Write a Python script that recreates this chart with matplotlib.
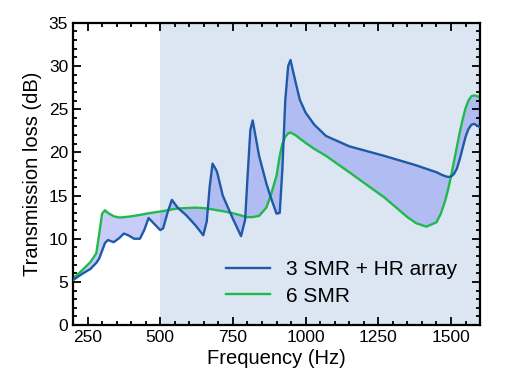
import matplotlib
matplotlib.use("Agg")
import matplotlib.pyplot as plt
from matplotlib.ticker import MultipleLocator

plt.rcParams['font.family'] = ['Liberation Sans', 'DejaVu Sans']

freq = [200, 230, 260, 280, 290, 300, 310, 320, 340, 360, 375, 390, 410, 430, 445,
        460, 480, 500, 510, 525, 540, 560, 590, 620, 648, 660, 670, 680, 695, 715,
        750, 778, 792, 800, 810, 818, 840, 865, 880, 900, 911, 920, 930, 940, 948,
        965, 980, 1000, 1030, 1070, 1150, 1270, 1350, 1380, 1415, 1450, 1465, 1480, 1490, 1500,
        1510, 1520, 1530, 1540, 1550, 1560, 1570, 1580, 1600]

smr_hr = [5.2, 5.9, 6.5, 7.2, 7.7, 8.6, 9.5, 9.85, 9.6, 10.1, 10.6, 10.4, 10.0, 10.0, 11.0,
          12.4, 11.7, 11.0, 11.2, 13.0, 14.5, 13.6, 12.7, 11.6, 10.4, 12.0, 16.0, 18.7, 17.8, 15.0,
          12.3, 10.3, 12.2, 17.0, 22.6, 23.7, 19.6, 16.4, 14.8, 12.9, 13.0, 18.0, 26.0, 30.0, 30.7,
          28.2, 26.1, 24.6, 23.2, 21.9, 20.7, 19.6, 18.8, 18.5, 18.1, 17.7, 17.45, 17.25, 17.15, 17.2,
          17.5, 18.1, 19.2, 20.5, 21.8, 22.7, 23.2, 23.3, 22.9]

smr6 = [5.4, 6.3, 7.3, 8.3, 10.5, 12.9, 13.3, 13.0, 12.6, 12.45, 12.5, 12.55, 12.65, 12.75, 12.85,
        12.95, 13.05, 13.15, 13.2, 13.3, 13.4, 13.5, 13.55, 13.6, 13.55, 13.5, 13.45, 13.4, 13.3, 13.2,
        12.95, 12.7, 12.55, 12.5, 12.5, 12.5, 12.65, 13.6, 15.0, 17.3, 19.6, 21.0, 21.8, 22.2, 22.3,
        22.0, 21.6, 21.1, 20.4, 19.6, 17.7, 14.8, 12.5, 11.8, 11.4, 11.9, 12.9, 14.4, 15.7, 17.2,
        18.9, 20.6, 22.3, 23.8, 25.1, 26.0, 26.5, 26.6, 26.4]

labels = ["3 SMR + HR array", "6 SMR"]

fig = plt.figure(figsize=(5.14, 3.87), dpi=100)
ax = fig.add_axes([0.142, 0.160, 0.792, 0.781])

ax.axvspan(500, 1600, color='#dbe6f2', zorder=0, lw=0)
ax.fill_between(freq, smr_hr, smr6, color=(0.45, 0.5, 0.95), alpha=0.4, lw=0, zorder=1)
ax.plot(freq, smr6, color='#1fba4a', lw=1.7, zorder=2, label=labels[1])
ax.plot(freq, smr_hr, color='#1f5aa6', lw=1.7, zorder=3, label=labels[0])

ax.set_xlim(200, 1600)
ax.set_ylim(0, 35)
ax.xaxis.set_major_locator(MultipleLocator(250))
ax.xaxis.set_minor_locator(MultipleLocator(50))
ax.yaxis.set_major_locator(MultipleLocator(5))
ax.yaxis.set_minor_locator(MultipleLocator(1))
ax.tick_params(which='both', direction='in', top=True, right=True, labelsize=12.5, width=1.3)
ax.tick_params(which='major', length=6)
ax.tick_params(which='minor', length=3)
for s in ax.spines.values():
    s.set_linewidth(1.6)

ax.set_xlabel("Frequency (Hz)", fontsize=14.5, labelpad=3)
ax.set_ylabel("Transmission loss (dB)", fontsize=14.5, labelpad=5)

h, l = ax.get_legend_handles_labels()
ax.legend(h[::-1], l[::-1], loc='lower right', bbox_to_anchor=(0.964, 0.037), frameon=False,
          fontsize=15, handlelength=2.1, handletextpad=0.77, labelspacing=0.35,
          borderaxespad=0.0)

fig.savefig("out.png", dpi=100)
